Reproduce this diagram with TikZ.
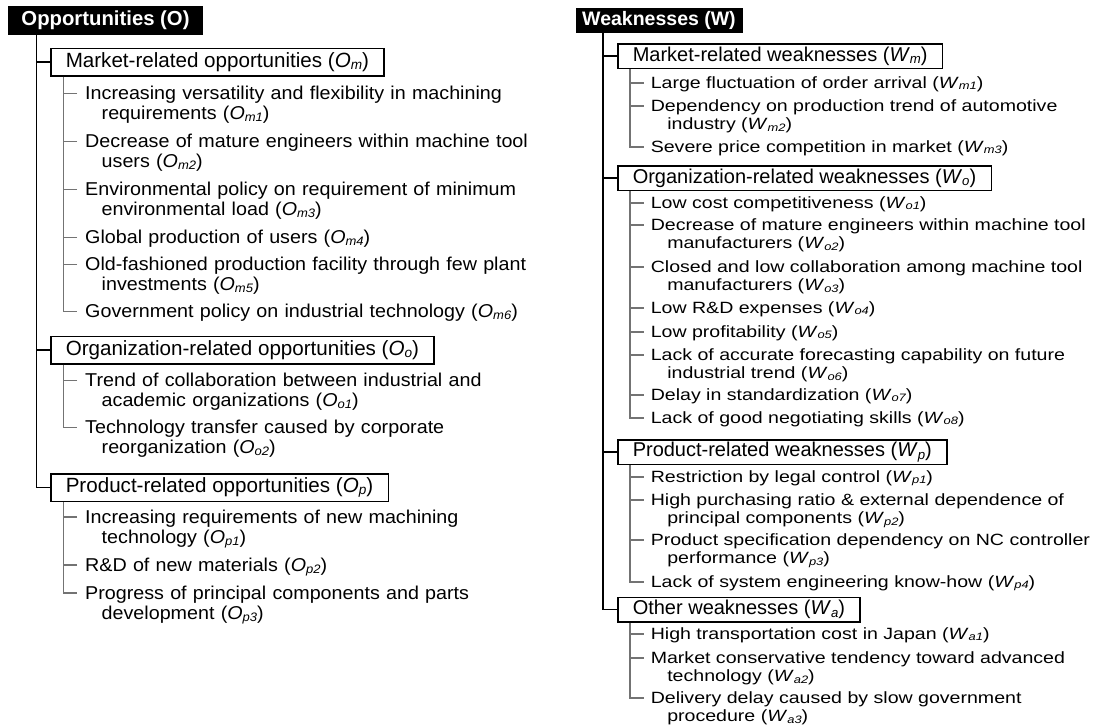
\documentclass[tikz,border=0pt]{standalone}
\usepackage{fontspec}
\setmainfont{Liberation Sans}
\newfontfamily\leftfont[FakeStretch=1.06]{Liberation Sans}
\newfontfamily\widefont[FakeStretch=1.2]{Liberation Sans}
\newcommand{\lbl}[2]{\textit{#1}\raisebox{-0.12em}{\scalebox{0.66}{\itshape #2}}}
\newcommand{\cont}{\\\hspace*{16.5pt}}
\tikzset{
  headbox/.style={rectangle, fill=black, text=white, inner sep=0pt, font=\bfseries},
  catbox/.style={rectangle, draw=black, line width=1.5pt, fill=white, anchor=west, inner xsep=15pt, inner ysep=0pt},
  ocat/.style={catbox, minimum height=27.5pt, font=\fontsize{20.6}{24}\selectfont},
  wcat/.style={catbox, minimum height=24.5pt, font=\fontsize{20}{23}\selectfont},
  oitem/.style={anchor=base west, inner sep=0pt, align=left, text width=520pt, font=\leftfont\fontsize{18.6}{20}\selectfont},
  witem/.style={anchor=base west, inner sep=0pt, align=left, text width=520pt, font=\widefont\fontsize{16.3}{18.3}\selectfont},
  trunk/.style={line width=1.6pt, draw=black},
  twig/.style={line width=1.2pt, draw=black!55}
}
\begin{document}
\begin{tikzpicture}[x=1pt, y=-1pt]
  \fill[white] (0,0) rectangle (1096,726);
  \useasboundingbox (0,0) rectangle (1096,726);

  % Opportunities
  \node[headbox, minimum width=195pt, minimum height=29pt, font=\fontsize{20.3}{24}\selectfont\bfseries] (ohead) at (105.5,20.5) {Opportunities (O)};
  \node[ocat] (omk) at (50,62) {Market-related opportunities (\lbl{O}{m})};
  \node[oitem] (om1) at (85,99.3) {Increasing versatility and flexibility in machining\cont requirements (\lbl{O}{m1})};
  \node[oitem] (om2) at (85,147.7) {Decrease of mature engineers within machine tool\cont users (\lbl{O}{m2})};
  \node[oitem] (om3) at (85,195.5) {Environmental policy on requirement of minimum\cont environmental load (\lbl{O}{m3})};
  \node[oitem] (om4) at (85,243.5) {Global production of users (\lbl{O}{m4})};
  \node[oitem] (om5) at (85,270.5) {Old-fashioned production facility through few plant\cont investments (\lbl{O}{m5})};
  \node[oitem] (om6) at (85,317.7) {Government policy on industrial technology (\lbl{O}{m6})};
  \node[ocat] (oorg) at (50,350) {Organization-related opportunities (\lbl{O}{o})};
  \node[oitem] (oo1) at (85,386.5) {Trend of collaboration between industrial and\cont academic organizations (\lbl{O}{o1})};
  \node[oitem] (oo2) at (85,433.5) {Technology transfer caused by corporate\cont reorganization (\lbl{O}{o2})};
  \node[ocat] (opd) at (50,487.5) {Product-related opportunities (\lbl{O}{p})};
  \node[oitem] (op1) at (85,523) {Increasing requirements of new machining\cont technology (\lbl{O}{p1})};
  \node[oitem] (op2) at (85,571) {R\&D of new materials (\lbl{O}{p2})};
  \node[oitem] (op3) at (85,599) {Progress of principal components and parts\cont development (\lbl{O}{p3})};

  \coordinate (otop) at ([xshift=28.7pt]ohead.south west);
  \draw[trunk] (otop) |- (opd.west);
  \draw[trunk] (otop |- omk.west) -- (omk.west);
  \draw[trunk] (otop |- oorg.west) -- (oorg.west);
  \draw[twig] ([xshift=13.3pt]omk.south west) |- ([xshift=-8pt,yshift=6pt]om6.base west);
  \draw[twig] ([xshift=13.3pt]oorg.south west) |- ([xshift=-8pt,yshift=6pt]oo2.base west);
  \draw[twig] ([xshift=13.3pt]opd.south west) |- ([xshift=-8pt,yshift=6pt]op3.base west);
  \foreach \n in {om1,om2,om3,om4,om5,oo1,op1,op2}
    \draw[twig] ([xshift=-8pt,yshift=6pt]\n.base west) -- ++(-13.7,0);

  % Weaknesses
  \node[headbox, minimum width=167pt, minimum height=25pt, font=\fontsize{19.5}{23}\selectfont\bfseries] (whead) at (659,20.5) {Weaknesses (W)};
  \node[wcat] (wmk) at (617,56) {Market-related weaknesses (\lbl{W}{m})};
  \node[witem] (wm1) at (650.6,88) {Large fluctuation of order arrival (\lbl{W}{m1})};
  \node[witem] (wm2) at (650.6,111) {Dependency on production trend of automotive\cont industry (\lbl{W}{m2})};
  \node[witem] (wm3) at (650.6,152) {Severe price competition in market (\lbl{W}{m3})};
  \node[wcat] (worg) at (617,178) {Organization-related weaknesses (\lbl{W}{o})};
  \node[witem] (wo1) at (650.6,208) {Low cost competitiveness (\lbl{W}{o1})};
  \node[witem] (wo2) at (650.6,230) {Decrease of mature engineers within machine tool\cont manufacturers (\lbl{W}{o2})};
  \node[witem] (wo3) at (650.6,272) {Closed and low collaboration among machine tool\cont manufacturers (\lbl{W}{o3})};
  \node[witem] (wo4) at (650.6,313) {Low R\&D expenses (\lbl{W}{o4})};
  \node[witem] (wo5) at (650.6,337) {Low profitability (\lbl{W}{o5})};
  \node[witem] (wo6) at (650.6,360) {Lack of accurate forecasting capability on future\cont industrial trend (\lbl{W}{o6})};
  \node[witem] (wo7) at (650.6,400) {Delay in standardization (\lbl{W}{o7})};
  \node[witem] (wo8) at (650.6,423) {Lack of good negotiating skills (\lbl{W}{o8})};
  \node[wcat] (wpd) at (617,452) {Product-related weaknesses (\lbl{W}{p})};
  \node[witem] (wp1) at (650.6,482) {Restriction by legal control (\lbl{W}{p1})};
  \node[witem] (wp2) at (650.6,505) {High purchasing ratio \& external dependence of\cont principal components (\lbl{W}{p2})};
  \node[witem] (wp3) at (650.6,545) {Product specification dependency on NC controller\cont performance (\lbl{W}{p3})};
  \node[witem] (wp4) at (650.6,587) {Lack of system engineering know-how (\lbl{W}{p4})};
  \node[wcat] (woth) at (617,609.5) {Other weaknesses (\lbl{W}{a})};
  \node[witem] (wa1) at (650.6,639) {High transportation cost in Japan (\lbl{W}{a1})};
  \node[witem] (wa2) at (650.6,663) {Market conservative tendency toward advanced\cont technology (\lbl{W}{a2})};
  \node[witem] (wa3) at (650.6,703) {Delivery delay caused by slow government\cont procedure (\lbl{W}{a3})};

  \coordinate (wtop) at ([xshift=27.9pt]whead.south west);
  \draw[trunk] (wtop) |- (woth.west);
  \draw[trunk] (wtop |- wmk.west) -- (wmk.west);
  \draw[trunk] (wtop |- worg.west) -- (worg.west);
  \draw[trunk] (wtop |- wpd.west) -- (wpd.west);
  \draw[twig] ([xshift=13pt]wmk.south west) |- ([xshift=-7pt,yshift=5pt]wm3.base west);
  \draw[twig] ([xshift=13pt]worg.south west) |- ([xshift=-7pt,yshift=5pt]wo8.base west);
  \draw[twig] ([xshift=13pt]wpd.south west) |- ([xshift=-7pt,yshift=5pt]wp4.base west);
  \draw[twig] ([xshift=13pt]woth.south west) |- ([xshift=-7pt,yshift=5pt]wa3.base west);
  \foreach \n in {wm1,wm2,wo1,wo2,wo3,wo4,wo5,wo6,wo7,wp1,wp2,wp3,wa1,wa2}
    \draw[twig] ([xshift=-7pt,yshift=5pt]\n.base west) -- ++(-13.6,0);
\end{tikzpicture}
\end{document}
